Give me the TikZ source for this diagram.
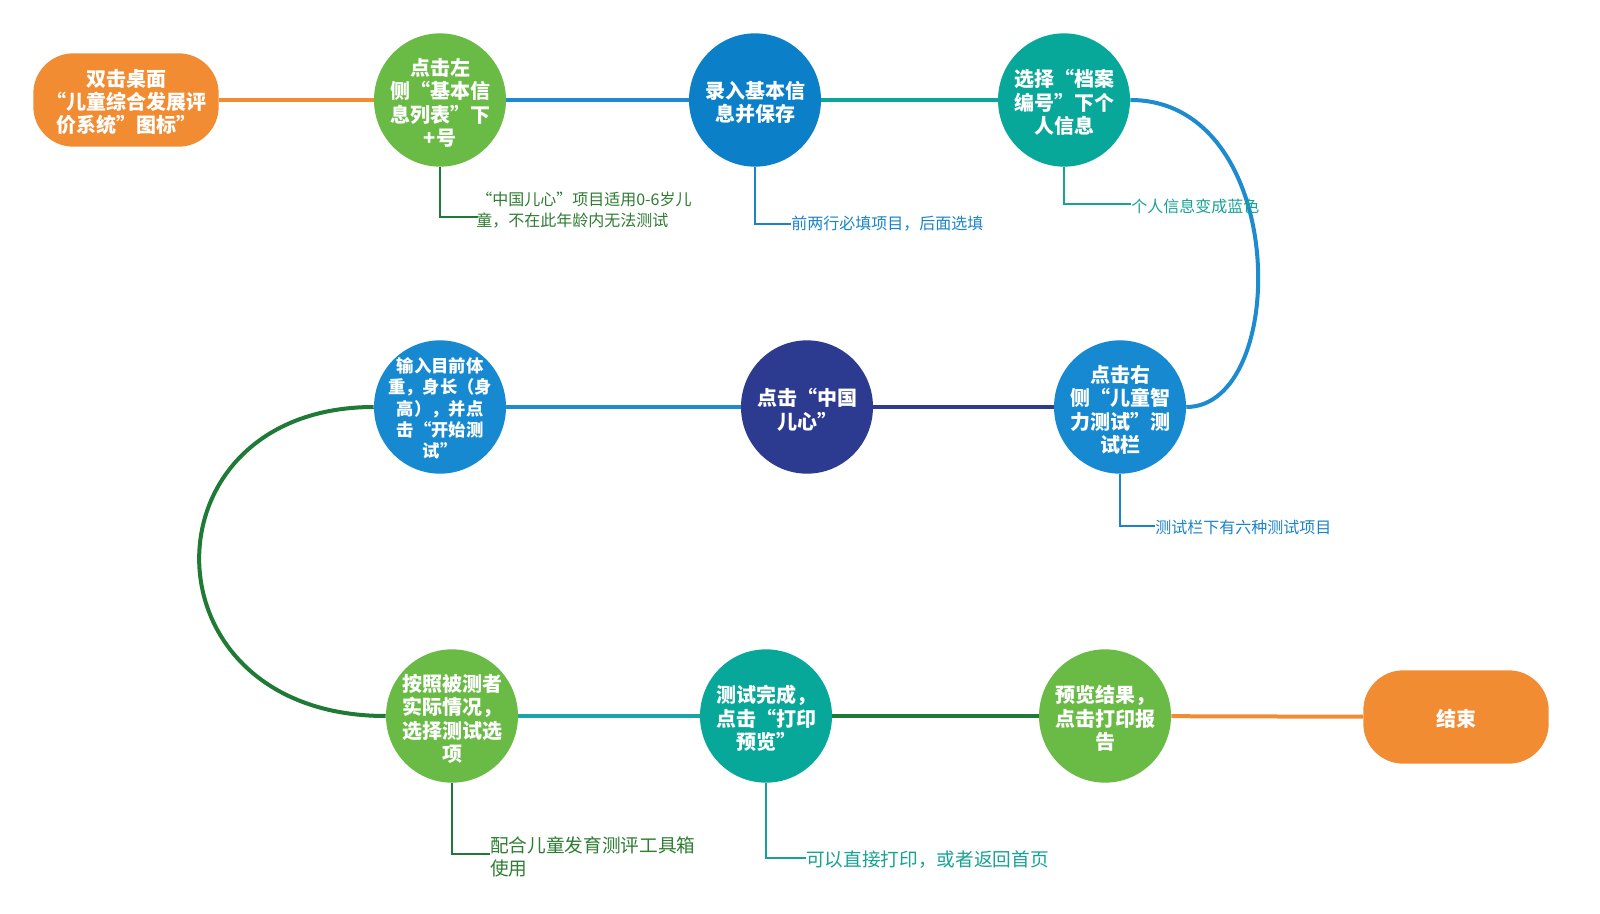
\documentclass[tikz,border=0pt]{standalone}
\usepackage{fontspec}
\setmainfont{Noto Sans CJK SC}
\usetikzlibrary{shapes.geometric}
\definecolor{corange}{HTML}{F28C33}
\definecolor{cgreen}{HTML}{6ABB46}
\definecolor{cblue}{HTML}{0B80C9}
\definecolor{cbluetwo}{HTML}{1689D0}
\definecolor{cteal}{HTML}{07A799}
\definecolor{cnavy}{HTML}{2C3A8F}
\definecolor{cdkgreen}{HTML}{1F7A35}
\definecolor{linblue}{HTML}{1D8BCF}
\definecolor{linteal}{HTML}{19A7A6}
\definecolor{txgreen}{HTML}{2E7D32}
\definecolor{txblue}{HTML}{1B84C9}
\definecolor{txteal}{HTML}{17A394}
\begin{document}
\begin{tikzpicture}[x=0.75pt,y=-0.75pt,
  circnode/.style={ellipse, minimum width=99pt, minimum height=100pt, inner sep=0pt},
  circtext/.style={text=white, align=center, inner sep=0pt, yshift=-2pt, font=\bfseries\fontsize{15}{17.6}\selectfont},
  smalltext/.style={text=white, align=center, inner sep=0pt, yshift=-1pt, font=\bfseries\fontsize{13}{15.9}\selectfont},
  termnode/.style={rectangle, rounded corners=30pt, minimum width=139pt, minimum height=70pt,
    inner sep=0pt, fill=corange},
  termtext/.style={text=white, align=center, inner sep=0pt, yshift=-1.5pt, font=\bfseries\fontsize{15}{17.6}\selectfont},
  mainline/.style={line width=3pt},
  annoline/.style={line width=2.2pt},
  annotext/.style={anchor=west, align=left, inner sep=0pt, font=\fontsize{12}{15.3}\selectfont},
  annotextbig/.style={anchor=west, align=left, inner sep=0pt, font=\fontsize{14}{17.6}\selectfont}]
\useasboundingbox (0,0) rectangle (1600,914);
\fill[white] (0,0) rectangle (1600,914);

% nodes
\node[termnode, label={[termtext]center:{双击桌面\\“儿童综合发展评\\价系统”图标”}}] (start) at (126,100) {};
\node[circnode, fill=cgreen, label={[circtext]center:{点击左\\侧“基本信\\息列表”下\\+号}}] (n2) at (440,100) {};
\node[circnode, fill=cblue, label={[circtext]center:{录入基本信\\息并保存}}] (n3) at (755,100) {};
\node[circnode, fill=cteal, label={[circtext]center:{选择“档案\\编号”下个\\人信息}}] (n4) at (1064,100) {};
\node[circnode, fill=cbluetwo, label={[circtext]center:{点击右\\侧“儿童智\\力测试”测\\试栏}}] (n5) at (1120,407) {};
\node[circnode, fill=cnavy, label={[circtext]center:{点击“中国\\儿心”}}] (n6) at (807,407) {};
\node[circnode, fill=cbluetwo, label={[smalltext]center:{输入目前体\\重，身长（身\\高），并点\\击“开始测\\试”}}] (n7) at (440,407) {};
\node[circnode, fill=cgreen, label={[circtext]center:{按照被测者\\实际情况，\\选择测试选\\项}}] (n8) at (452,716) {};
\node[circnode, fill=cteal, label={[circtext]center:{测试完成，\\点击“打印\\预览”}}] (n9) at (766,716) {};
\node[circnode, fill=cgreen, label={[circtext]center:{预览结果，\\点击打印报\\告}}] (n10) at (1105,716) {};
\node[termnode, label={[termtext]center:{结束}}] (end) at (1456,717) {};

% main connectors
\draw[mainline, corange] (start) -- (n2);
\draw[mainline, linblue] (n2) -- (n3);
\draw[mainline, cteal] (n3) -- (n4);
\draw[mainline, linblue] (n4.east) .. controls (1290,100) and (1290,407) .. (n5.east);
\draw[mainline, cnavy] (n5) -- (n6);
\draw[mainline, linblue] (n6) -- (n7);
\draw[mainline, cdkgreen] (n7.west) .. controls (139,407) and (139,716) .. (n8.west);
\draw[mainline, linteal] (n8) -- (n9);
\draw[mainline, cdkgreen] (n9) -- (n10);
\draw[mainline, corange] (n10) -- (end);

% annotations
\coordinate (a2) at (478,217);
\draw[annoline, cdkgreen] (n2.south) |- (a2);
\node[annotext, text=txgreen] (t2) at (476,210) {“中国儿心”项目适用0-6岁儿\\童，不在此年龄内无法测试};

\coordinate (a3) at (791,224);
\draw[annoline, txblue] (n3.south) |- (a3);
\node[annotext, text=txblue] (t3) at (791,224) {前两行必填项目，后面选填};

\coordinate (a4) at (1131,204);
\draw[annoline, txteal] (n4.south) |- (a4);
\node[annotext, text=txteal] (t4) at (1131,206) {个人信息变成蓝色};

\coordinate (a5) at (1155,526);
\draw[annoline, txblue] (n5.south) |- (a5);
\node[annotext, text=txblue] (t5) at (1155,527) {测试栏下有六种测试项目};

\coordinate (a8) at (490,854);
\draw[annoline, cdkgreen] (n8.south) |- (a8);
\node[annotextbig, text=txgreen] (t8) at (490,857) {配合儿童发育测评工具箱\\使用};

\coordinate (a9) at (806,858);
\draw[annoline, txteal] (n9.south) |- (a9);
\node[annotextbig, text=txteal] (t9) at (806,860) {可以直接打印，或者返回首页};
\end{tikzpicture}
\end{document}
